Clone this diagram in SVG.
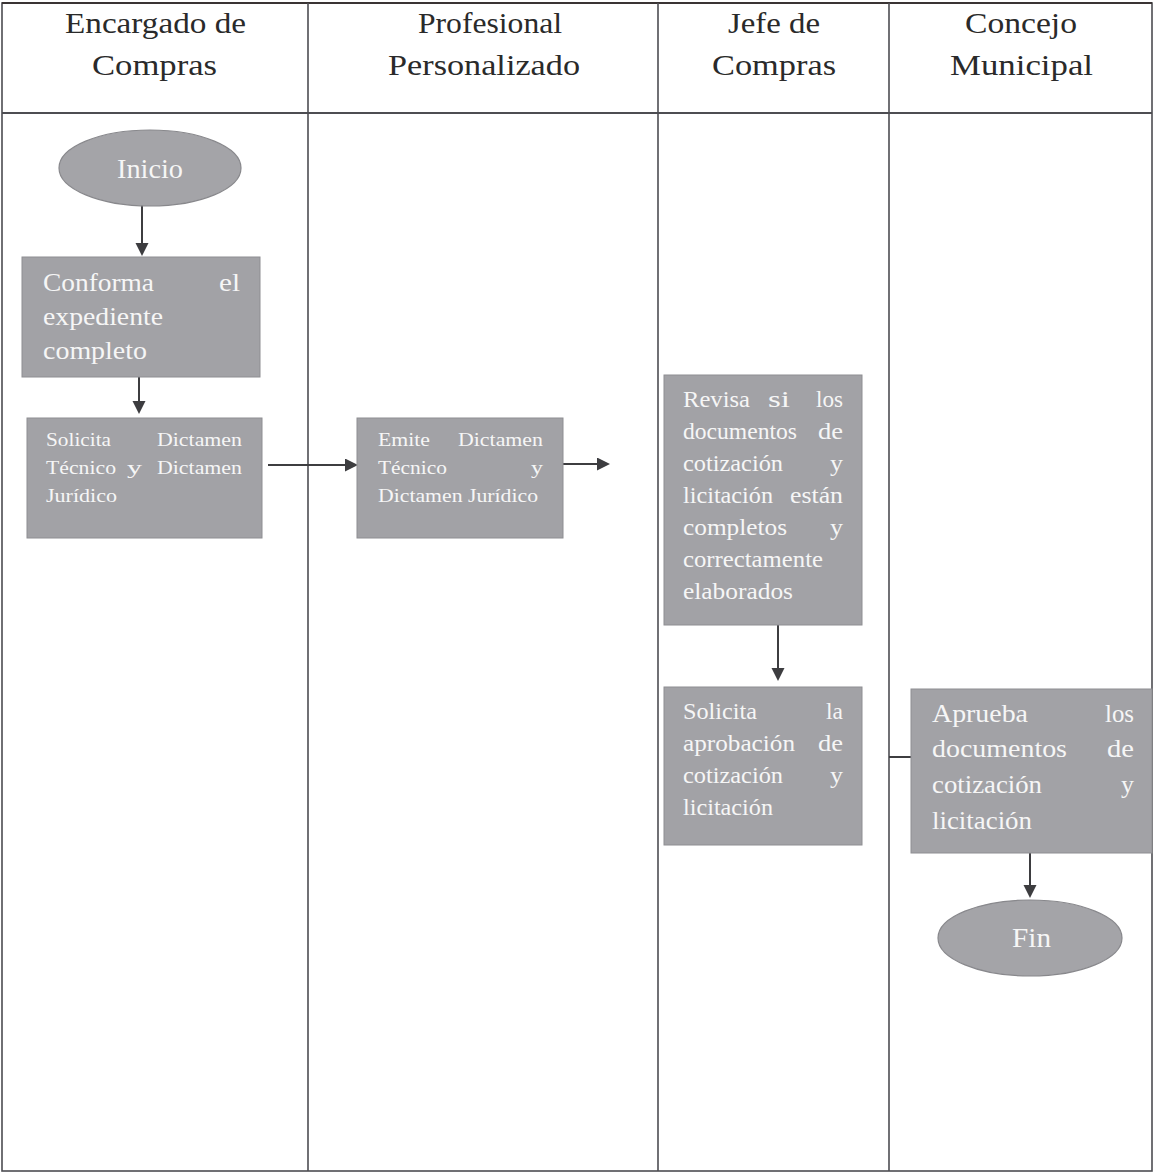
<svg xmlns="http://www.w3.org/2000/svg" width="1154" height="1174" viewBox="0 0 1154 1174">
<defs>
<style>
.lane{fill:none;stroke:#4d4d52;stroke-width:1.6}
.hd{font-family:"Liberation Serif","Times New Roman",serif;font-size:30px;fill:#2a2a2a}
.box{fill:#a2a2a6;stroke:#8e8e92;stroke-width:1}
.ell{fill:#a4a4a8;stroke:#88888c;stroke-width:1.2}
.t{font-family:"Liberation Serif","Times New Roman",serif;fill:#f6f6f6}
.s17{font-size:18.5px}
.s21{font-size:22.5px}
.s23{font-size:25px}
.s26{font-size:28px}
.con{fill:none;stroke:#3d3d40;stroke-width:2;marker-end:url(#ah)}
.con2{fill:none;stroke:#3d3d40;stroke-width:2}
</style>
<marker id="ah" markerWidth="14" markerHeight="14" refX="6" refY="6.5" orient="auto" markerUnits="userSpaceOnUse">
<path d="M0,0 L13,6.5 L0,13 z" fill="#3d3d40"/>
</marker>
</defs>
<rect width="1154" height="1174" fill="#ffffff"/>
<g id="lanes">
<rect class="lane" x="2" y="3" width="1150" height="1168"/>
<line class="lane" x1="2" y1="3" x2="1152" y2="3" style="stroke:#3a3434;stroke-width:2.2"/>
<line class="lane" x1="2" y1="113" x2="1152" y2="113" style="stroke-width:2"/>
<line class="lane" x1="308" y1="3" x2="308" y2="1171"/>
<line class="lane" x1="658" y1="3" x2="658" y2="1171"/>
<line class="lane" x1="889" y1="3" x2="889" y2="1171"/>
<text class="hd" x="65" y="33" textLength="181" lengthAdjust="spacingAndGlyphs">Encargado de</text>
<text class="hd" x="92" y="75" textLength="125" lengthAdjust="spacingAndGlyphs">Compras</text>
<text class="hd" x="418" y="33" textLength="144" lengthAdjust="spacingAndGlyphs">Profesional</text>
<text class="hd" x="388" y="75" textLength="192" lengthAdjust="spacingAndGlyphs">Personalizado</text>
<text class="hd" x="728" y="33" textLength="92" lengthAdjust="spacingAndGlyphs">Jefe de</text>
<text class="hd" x="712" y="75" textLength="124" lengthAdjust="spacingAndGlyphs">Compras</text>
<text class="hd" x="965" y="33" textLength="112" lengthAdjust="spacingAndGlyphs">Concejo</text>
<text class="hd" x="950" y="75" textLength="143" lengthAdjust="spacingAndGlyphs">Municipal</text>
</g>
<g id="connectors">
<line class="con" x1="142" y1="205" x2="142" y2="249"/>
<line class="con" x1="139" y1="377" x2="139" y2="407"/>
<line class="con" x1="268" y1="465" x2="351" y2="465"/>
<line class="con" x1="563" y1="464" x2="603" y2="464"/>
<line class="con" x1="778" y1="625" x2="778" y2="674"/>
<line class="con2" x1="889" y1="757" x2="911" y2="757"/>
<line class="con" x1="1030" y1="853" x2="1030" y2="891"/>
</g>
<g id="inicio">
<ellipse class="ell" cx="150" cy="168" rx="91" ry="38"/>
<text class="t s26" x="117" y="178" textLength="66" lengthAdjust="spacingAndGlyphs">Inicio</text>
</g>
<g id="conforma">
<rect class="box" x="22" y="257" width="238" height="120"/>
<text class="t s23" x="43" y="291" textLength="111" lengthAdjust="spacingAndGlyphs">Conforma</text>
<text class="t s23" x="219" y="291" textLength="21" lengthAdjust="spacingAndGlyphs">el</text>
<text class="t s23" x="43" y="325" textLength="120" lengthAdjust="spacingAndGlyphs">expediente</text>
<text class="t s23" x="43" y="359" textLength="104" lengthAdjust="spacingAndGlyphs">completo</text>
</g>
<g id="solicita-dictamen">
<rect class="box" x="27" y="418" width="235" height="120"/>
<text class="t s17" x="46" y="446" textLength="65" lengthAdjust="spacingAndGlyphs">Solicita</text>
<text class="t s17" x="157" y="446" textLength="85" lengthAdjust="spacingAndGlyphs">Dictamen</text>
<text class="t s17" x="46" y="474" textLength="70" lengthAdjust="spacingAndGlyphs">Técnico</text>
<text class="t s17" x="127" y="474" textLength="15" lengthAdjust="spacingAndGlyphs">y</text>
<text class="t s17" x="157" y="474" textLength="85" lengthAdjust="spacingAndGlyphs">Dictamen</text>
<text class="t s17" x="46" y="502" textLength="71" lengthAdjust="spacingAndGlyphs">Jurídico</text>
</g>
<g id="emite-dictamen">
<rect class="box" x="357" y="418" width="206" height="120"/>
<text class="t s17" x="378" y="446" textLength="52" lengthAdjust="spacingAndGlyphs">Emite</text>
<text class="t s17" x="458" y="446" textLength="85" lengthAdjust="spacingAndGlyphs">Dictamen</text>
<text class="t s17" x="378" y="474" textLength="69" lengthAdjust="spacingAndGlyphs">Técnico</text>
<text class="t s17" x="531" y="474" textLength="12" lengthAdjust="spacingAndGlyphs">y</text>
<text class="t s17" x="378" y="502" textLength="160" lengthAdjust="spacingAndGlyphs">Dictamen Jurídico</text>
</g>
<g id="revisa">
<rect class="box" x="664" y="375" width="198" height="250"/>
<text class="t s21" x="683" y="407" textLength="67" lengthAdjust="spacingAndGlyphs">Revisa</text>
<text class="t s21" x="768" y="407" textLength="22" lengthAdjust="spacingAndGlyphs">si</text>
<text class="t s21" x="816" y="407" textLength="27" lengthAdjust="spacingAndGlyphs">los</text>
<text class="t s21" x="683" y="439" textLength="114" lengthAdjust="spacingAndGlyphs">documentos</text>
<text class="t s21" x="818" y="439" textLength="25" lengthAdjust="spacingAndGlyphs">de</text>
<text class="t s21" x="683" y="471" textLength="100" lengthAdjust="spacingAndGlyphs">cotización</text>
<text class="t s21" x="830" y="471" textLength="13" lengthAdjust="spacingAndGlyphs">y</text>
<text class="t s21" x="683" y="503" textLength="90" lengthAdjust="spacingAndGlyphs">licitación</text>
<text class="t s21" x="790" y="503" textLength="53" lengthAdjust="spacingAndGlyphs">están</text>
<text class="t s21" x="683" y="535" textLength="104" lengthAdjust="spacingAndGlyphs">completos</text>
<text class="t s21" x="830" y="535" textLength="13" lengthAdjust="spacingAndGlyphs">y</text>
<text class="t s21" x="683" y="567" textLength="140" lengthAdjust="spacingAndGlyphs">correctamente</text>
<text class="t s21" x="683" y="599" textLength="110" lengthAdjust="spacingAndGlyphs">elaborados</text>
</g>
<g id="solicita-aprobacion">
<rect class="box" x="664" y="687" width="198" height="158"/>
<text class="t s21" x="683" y="719" textLength="74" lengthAdjust="spacingAndGlyphs">Solicita</text>
<text class="t s21" x="826" y="719" textLength="17" lengthAdjust="spacingAndGlyphs">la</text>
<text class="t s21" x="683" y="751" textLength="112" lengthAdjust="spacingAndGlyphs">aprobación</text>
<text class="t s21" x="818" y="751" textLength="25" lengthAdjust="spacingAndGlyphs">de</text>
<text class="t s21" x="683" y="783" textLength="100" lengthAdjust="spacingAndGlyphs">cotización</text>
<text class="t s21" x="830" y="783" textLength="13" lengthAdjust="spacingAndGlyphs">y</text>
<text class="t s21" x="683" y="815" textLength="90" lengthAdjust="spacingAndGlyphs">licitación</text>
</g>
<g id="aprueba">
<rect class="box" x="911" y="689" width="241" height="164"/>
<text class="t s23" x="932" y="722" textLength="96" lengthAdjust="spacingAndGlyphs">Aprueba</text>
<text class="t s23" x="1105" y="722" textLength="29" lengthAdjust="spacingAndGlyphs">los</text>
<text class="t s23" x="932" y="757" textLength="135" lengthAdjust="spacingAndGlyphs">documentos</text>
<text class="t s23" x="1107" y="757" textLength="27" lengthAdjust="spacingAndGlyphs">de</text>
<text class="t s23" x="932" y="793" textLength="110" lengthAdjust="spacingAndGlyphs">cotización</text>
<text class="t s23" x="1121" y="793" textLength="13" lengthAdjust="spacingAndGlyphs">y</text>
<text class="t s23" x="932" y="829" textLength="100" lengthAdjust="spacingAndGlyphs">licitación</text>
</g>
<g id="fin">
<ellipse class="ell" cx="1030" cy="938" rx="92" ry="38"/>
<text class="t s26" x="1012" y="947" textLength="39" lengthAdjust="spacingAndGlyphs">Fin</text>
</g>
</svg>
